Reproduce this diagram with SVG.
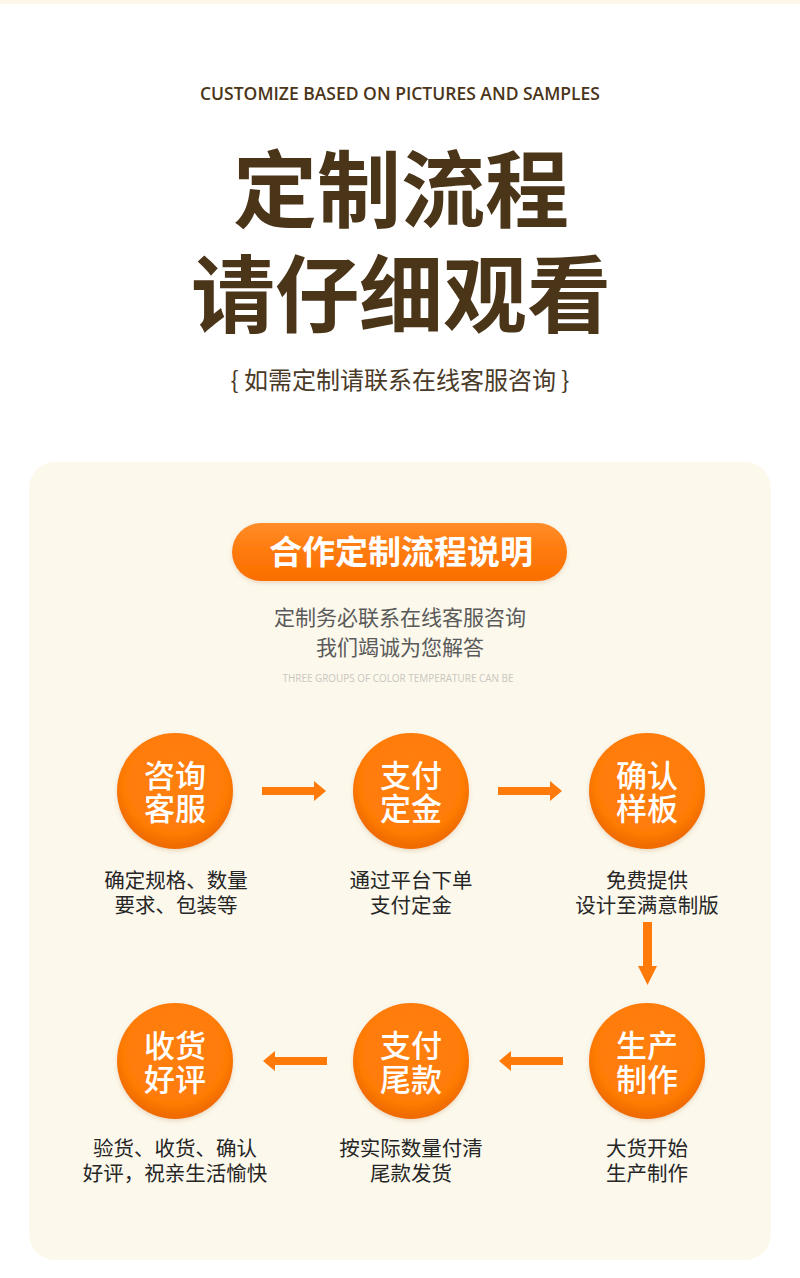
<svg xmlns="http://www.w3.org/2000/svg" width="800" height="1278" viewBox="0 0 800 1278">
<defs>
<style>
.cjk{font-family:"Noto Sans CJK SC","Noto Sans",sans-serif;}
.title{font-size:84px;font-weight:700;fill:#4a3519;text-anchor:middle;}
.ct{font-size:31px;font-weight:500;fill:#ffffff;text-anchor:middle;}
.desc{font-size:20.5px;fill:#262626;text-anchor:middle;}
.grey{font-size:21px;fill:#5a5a5a;text-anchor:middle;}
.arrow{fill:#ff7a08;}
</style>
<radialGradient id="cg" cx="50%" cy="42%" r="55%">
<stop offset="0" stop-color="#ff800e"/>
<stop offset="0.82" stop-color="#ff7b06"/>
<stop offset="1" stop-color="#f06c00"/>
</radialGradient>
<linearGradient id="pg" x1="0" y1="0" x2="0" y2="1">
<stop offset="0" stop-color="#ff8d2a"/>
<stop offset="0.5" stop-color="#ff7a0c"/>
<stop offset="1" stop-color="#f96f00"/>
</linearGradient>
<filter id="sh" x="-20%" y="-20%" width="140%" height="150%">
<feDropShadow dx="0" dy="2" stdDeviation="2" flood-color="#c8a070" flood-opacity="0.35"/>
</filter>
</defs>
<rect x="0" y="0" width="800" height="1278" fill="#ffffff"/>
<rect x="0" y="0" width="800" height="4" fill="#fdf7ea"/>

<g id="header">
<text x="400" y="100" font-family="'Open Sans','Noto Sans',sans-serif" font-size="18" font-weight="600" fill="#4a3519" text-anchor="middle" textLength="400" lengthAdjust="spacingAndGlyphs">CUSTOMIZE BASED ON PICTURES AND SAMPLES</text>
<text class="cjk title" x="401" y="221">定制流程</text>
<text class="cjk title" x="401" y="326">请仔细观看</text>
<text class="cjk" x="400" y="389" font-size="24" fill="#4a3a28" text-anchor="middle">{ 如需定制请联系在线客服咨询 }</text>
</g>

<rect id="panel" x="29" y="462" width="742" height="798" rx="26" fill="#fcf8ec"/>

<g id="pill">
<rect x="232" y="523" width="335" height="58" rx="29" fill="url(#pg)" filter="url(#sh)"/>
<text class="cjk" x="401" y="564" font-size="33" font-weight="700" fill="#ffffff" text-anchor="middle">合作定制流程说明</text>
</g>

<g id="intro">
<text class="cjk grey"><tspan x="400" y="625">定制务必联系在线客服咨询</tspan><tspan x="400" y="655">我们竭诚为您解答</tspan></text>
<text x="398" y="682" font-family="'Open Sans','Noto Sans',sans-serif" font-size="10.5" fill="#c9c6c0" text-anchor="middle" textLength="231" lengthAdjust="spacingAndGlyphs">THREE GROUPS OF COLOR TEMPERATURE CAN BE</text>
</g>

<g id="step1">
<circle cx="175" cy="791" r="58" fill="url(#cg)" filter="url(#sh)"/>
<text class="cjk ct"><tspan x="175" y="787">咨询</tspan><tspan x="175" y="820">客服</tspan></text>
<text class="cjk desc"><tspan x="176" y="888">确定规格、数量</tspan><tspan x="176" y="913">要求、包装等</tspan></text>
</g>
<g id="step2">
<circle cx="411" cy="791" r="58" fill="url(#cg)" filter="url(#sh)"/>
<text class="cjk ct"><tspan x="411" y="787">支付</tspan><tspan x="411" y="820">定金</tspan></text>
<text class="cjk desc"><tspan x="411" y="888">通过平台下单</tspan><tspan x="411" y="913">支付定金</tspan></text>
</g>
<g id="step3">
<circle cx="647" cy="791" r="58" fill="url(#cg)" filter="url(#sh)"/>
<text class="cjk ct"><tspan x="647" y="787">确认</tspan><tspan x="647" y="820">样板</tspan></text>
<text class="cjk desc"><tspan x="647" y="888">免费提供</tspan><tspan x="647" y="913">设计至满意制版</tspan></text>
</g>
<g id="step4">
<circle cx="647" cy="1061" r="58" fill="url(#cg)" filter="url(#sh)"/>
<text class="cjk ct"><tspan x="647" y="1057">生产</tspan><tspan x="647" y="1091">制作</tspan></text>
<text class="cjk desc"><tspan x="647" y="1156">大货开始</tspan><tspan x="647" y="1181">生产制作</tspan></text>
</g>
<g id="step5">
<circle cx="411" cy="1061" r="58" fill="url(#cg)" filter="url(#sh)"/>
<text class="cjk ct"><tspan x="411" y="1057">支付</tspan><tspan x="411" y="1091">尾款</tspan></text>
<text class="cjk desc"><tspan x="411" y="1156">按实际数量付清</tspan><tspan x="411" y="1181">尾款发货</tspan></text>
</g>
<g id="step6">
<circle cx="175" cy="1061" r="58" fill="url(#cg)" filter="url(#sh)"/>
<text class="cjk ct"><tspan x="175" y="1057">收货</tspan><tspan x="175" y="1091">好评</tspan></text>
<text class="cjk desc"><tspan x="175" y="1156">验货、收货、确认</tspan><tspan x="175" y="1181">好评，祝亲生活愉快</tspan></text>
</g>

<g id="connectors">
<polygon class="arrow" points="262,787 314,787 314,781 326,791 314,801 314,795 262,795"/>
<polygon class="arrow" points="498,787 550,787 550,781 562,791 550,801 550,795 498,795"/>
<polygon class="arrow" points="643,922 652,922 652,966 657,966 647.5,985 638,966 643,966"/>
<polygon class="arrow" points="563,1057 511,1057 511,1051 499,1061 511,1071 511,1065 563,1065"/>
<polygon class="arrow" points="327,1057 275,1057 275,1051 263,1061 275,1071 275,1065 327,1065"/>
</g>
</svg>
